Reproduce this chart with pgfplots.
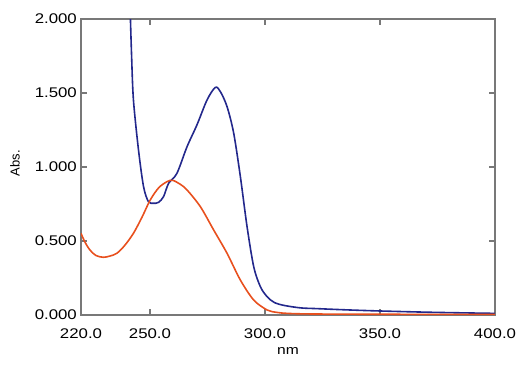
\documentclass[border=0pt]{standalone}
\usepackage{pgfplots}
\pgfplotsset{compat=1.18}
\usepackage{fontspec}
\setmainfont[FakeStretch=1.2]{Liberation Sans}
\newfontfamily\plainfont{Liberation Sans}
\definecolor{bluec}{RGB}{35,40,140}
\definecolor{orangec}{RGB}{232,80,30}
\definecolor{framec}{RGB}{120,120,120}
\begin{document}
\begin{tikzpicture}
\path (-81pt,-50pt) rectangle (439pt,315pt);
\begin{axis}[
  at={(0pt,0pt)}, anchor=south west,
  scale only axis, width=414pt, height=296pt,
  xmin=220, xmax=400, ymin=0, ymax=2,
  xtick={220,250,300,350,400},
  ytick={0,0.5,1,1.5,2},
  tick align=inside, major tick length=6pt,
  tick style={framec, line width=1.2pt},
  axis line style={framec, line width=1.3pt},
  /pgf/number format/assume math mode=true,
  ticklabel style={font=\fontsize{14}{16}\selectfont, inner sep=0pt},
  x tick label style={/pgf/number format/fixed, /pgf/number format/fixed zerofill, /pgf/number format/precision=1, anchor=base, yshift=-23pt},
  y tick label style={/pgf/number format/fixed, /pgf/number format/fixed zerofill, /pgf/number format/precision=3, anchor=east, xshift=-4pt},
  xlabel={nm}, ylabel={Abs.},
  xlabel style={font=\fontsize{13}{15}\selectfont, at={(axis description cs:0.5,0)}, anchor=base, yshift=-39pt, inner sep=0pt},
  ylabel style={font=\plainfont\fontsize{13}{15}\selectfont, at={(axis description cs:0,0.5)}, anchor=center, yshift=66pt, xshift=4pt, inner sep=0pt},
  every axis plot/.append style={line width=1.6pt, smooth, no marks},
]
\addplot[bluec] coordinates {
(241.4,2.05) (242.0,1.75) (242.8,1.453) (245.0,1.115) (247.2,0.867) (249.3,0.766)
(251.5,0.755) (253.7,0.761) (255.9,0.80) (258.1,0.89) (261.7,0.957) (266.1,1.137)
(270.4,1.284) (274.8,1.453) (278.4,1.538) (280.6,1.509) (283.5,1.408) (286.4,1.228)
(289.3,0.934) (292.2,0.597) (295.1,0.326) (298.0,0.191) (300.9,0.124) (304.0,0.085)
(308.2,0.065) (315.5,0.048) (322.7,0.043) (335,0.035) (350.3,0.027) (373.4,0.018) (400,0.011)
};
\addplot[orangec] coordinates {
(220,0.552) (221.8,0.49) (223.9,0.439) (226.5,0.402) (229.7,0.390) (232.5,0.398) (235.6,0.417)
(239,0.47) (242.8,0.552) (246.5,0.66) (250.1,0.777) (253.8,0.86) (257.4,0.901) (259.8,0.91)
(263,0.885) (266.1,0.845) (271.9,0.732) (277.7,0.574) (283.5,0.417) (289.3,0.236)
(295.1,0.101) (300.9,0.034) (305,0.018) (309.7,0.011) (320,0.007) (350,0.005) (400,0.004)
};
\end{axis}
\end{tikzpicture}
\end{document}
